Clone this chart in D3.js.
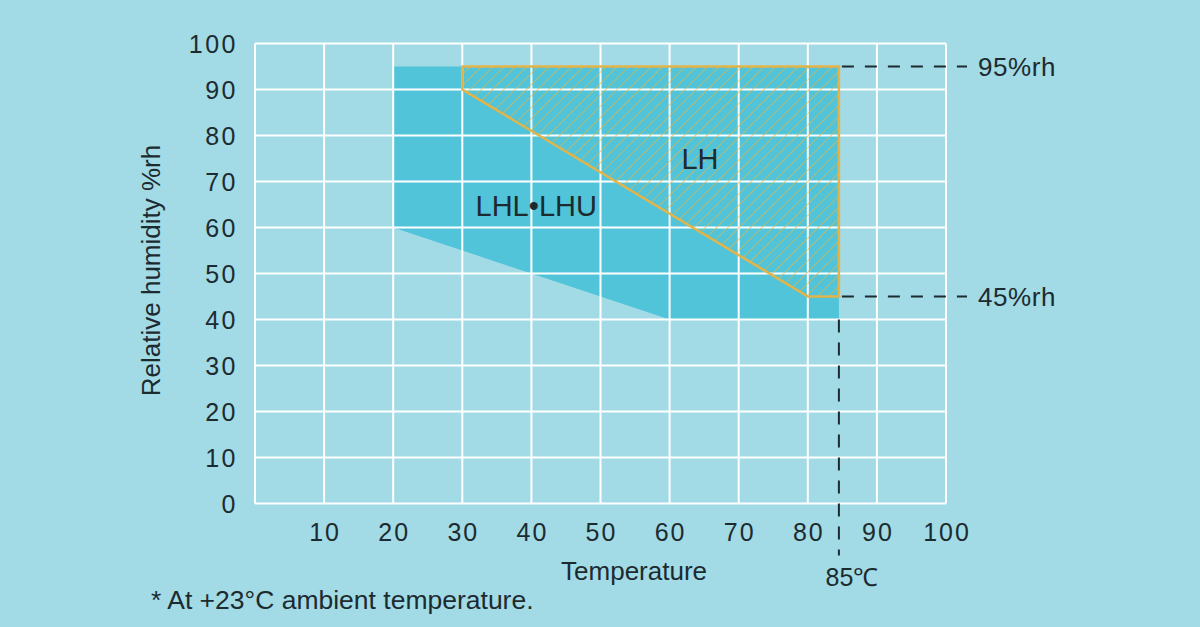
<!DOCTYPE html>
<html>
<head>
<meta charset="utf-8">
<script src="https://cdn.jsdelivr.net/npm/d3@7"></script>
<style>
  html, body { margin: 0; padding: 0; background: #a2dae5; }
  svg { display: block; }
  text { font-family: "Liberation Sans", Arial, Helvetica, sans-serif; fill: #1c2b30; }
</style>
</head>
<body>
<figure style="margin:0"></figure>
<script>
(async () => {

  // ---------- data ----------
  const xTicks = [10, 20, 30, 40, 50, 60, 70, 80, 90, 100]
  const yTicks = [0, 10, 20, 30, 40, 50, 60, 70, 80, 90, 100]

  // LHL / LHU range (temperature, humidity) vertices
  const lhlTemp = [20, 84.5, 84.5, 60, 20]
  const lhlHum = [95, 95, 40, 40, 60]

  // LH range vertices
  const lhTemp = [30, 84.5, 84.5, 80, 30]
  const lhHum = [95, 95, 45, 45, 90]

  // limit markers
  const maxTemp = 84.5
  const maxTempLabel = '85℃'
  const humLimits = [95, 45]
  const humLabels = ['95%rh', '45%rh']

  // ---------- svg setup ----------
  const svgWidth = 1200
  const svgHeight = 627
  const margin = { left: 255, right: 254, top: 43.5, bottom: 123.5 }
  const width = svgWidth - margin.left - margin.right
  const height = svgHeight - margin.top - margin.bottom

  const root = d3.select('figure')
    .append('svg')
    .attr('width', svgWidth)
    .attr('height', svgHeight)

  root.append('rect')
    .attr('width', svgWidth)
    .attr('height', svgHeight)
    .attr('fill', '#a2dae5')

  const defs = root.append('defs')
  const pat = defs.append('pattern')
    .attr('id', 'hatch')
    .attr('patternUnits', 'userSpaceOnUse')
    .attr('width', 8)
    .attr('height', 8)
    .attr('patternTransform', 'rotate(45)')
  pat.append('line')
    .attr('x1', 0).attr('y1', 0)
    .attr('x2', 0).attr('y2', 8)
    .attr('stroke', '#dfb44a')
    .attr('stroke-width', 1.6)
    .attr('stroke-opacity', 0.85)

  const svg = root.append('g')
    .attr('transform', `translate(${margin.left},${margin.top})`)

  // ---------- scales ----------
  const x = d3.scaleLinear().domain([0, 100]).range([0, width])
  const y = d3.scaleLinear().domain([0, 100]).range([height, 0])

  const line = d3.line()
    .x(d => x(d[0]))
    .y(d => y(d[1]))
    .curve(d3.curveLinearClosed)

  // ---------- regions ----------
  const lhlPts = lhlTemp.map((t, i) => [t, lhlHum[i]])
  const lhPts = lhTemp.map((t, i) => [t, lhHum[i]])

  svg.append('path')
    .attr('d', line(lhlPts))
    .attr('fill', '#51c4d9')

  // ---------- grid ----------
  const grid = svg.append('g')
  grid.selectAll('.vline')
    .data([0].concat(xTicks))
    .enter().append('line')
    .attr('x1', d => x(d)).attr('x2', d => x(d))
    .attr('y1', 0).attr('y2', height)
    .attr('stroke', '#ffffff')
    .attr('stroke-width', 2)
  grid.selectAll('.hline')
    .data(yTicks)
    .enter().append('line')
    .attr('x1', 0).attr('x2', width)
    .attr('y1', d => y(d)).attr('y2', d => y(d))
    .attr('stroke', '#ffffff')
    .attr('stroke-width', 2)

  svg.append('path')
    .attr('d', line(lhPts))
    .attr('fill', 'url(#hatch)')
    .attr('stroke', '#e2b44a')
    .attr('stroke-width', 2.5)
    .attr('stroke-linejoin', 'miter')

  // ---------- axes labels ----------
  svg.append('g')
    .selectAll('text')
    .data(yTicks)
    .enter().append('text')
    .attr('x', -17)
    .attr('y', d => y(d))
    .attr('dy', '0.38em')
    .attr('text-anchor', 'end')
    .style('font-size', '25px')
    .style('letter-spacing', '2.5px')
    .text(d => d)

  svg.append('g')
    .selectAll('text')
    .data(xTicks)
    .enter().append('text')
    .attr('x', d => x(d) + 1)
    .attr('y', height + 37)
    .attr('text-anchor', 'middle')
    .style('font-size', '25px')
    .style('letter-spacing', '2px')
    .text(d => d)

  svg.append('text')
    .attr('transform', `translate(${-104},${y(50) - 3}) rotate(-90)`)
    .attr('text-anchor', 'middle')
    .attr('dy', '0.35em')
    .style('font-size', '26px')
    .text('Relative humidity %rh')

  svg.append('text')
    .attr('x', x(55) - 1)
    .attr('y', height + 76)
    .attr('text-anchor', 'middle')
    .style('font-size', '26px')
    .text('Temperature')

  // ---------- limit markers ----------
  svg.selectAll('.hlim')
    .data(humLimits)
    .enter().append('line')
    .attr('x1', x(maxTemp) + 3)
    .attr('x2', width + 21)
    .attr('y1', d => y(d)).attr('y2', d => y(d))
    .attr('stroke', '#1c2b30')
    .attr('stroke-width', 2)
    .attr('stroke-dasharray', '12,11')

  svg.selectAll('.hlimlabel')
    .data(humLimits)
    .enter().append('text')
    .attr('x', width + 32)
    .attr('y', d => y(d))
    .attr('dy', '0.36em')
    .style('font-size', '26px')
    .style('letter-spacing', '0.6px')
    .text((d, i) => humLabels[i])

  svg.append('line')
    .attr('x1', x(maxTemp)).attr('x2', x(maxTemp))
    .attr('y1', y(40)).attr('y2', height + 52)
    .attr('stroke', '#1c2b30')
    .attr('stroke-width', 2)
    .attr('stroke-dasharray', '13,10')

  svg.append('text')
    .attr('x', x(maxTemp) + 13)
    .attr('y', height + 82)
    .attr('text-anchor', 'middle')
    .style('font-size', '25px')
    .text(maxTempLabel)

  // ---------- region labels ----------
  svg.append('text')
    .attr('x', x(64.4))
    .attr('y', y(72.7))
    .attr('text-anchor', 'middle')
    .style('font-size', '29px')
    .text('LH')

  svg.append('text')
    .attr('x', x(40.7))
    .attr('y', y(62.5))
    .attr('text-anchor', 'middle')
    .style('font-size', '29px')
    .text('LHL•LHU')

  // ---------- footnote ----------
  svg.append('text')
    .attr('x', 151 - margin.left)
    .attr('y', height + 105)
    .style('font-size', '26.5px')
    .text('* At +23°C ambient temperature.')

})()
</script>
</body>
</html>
